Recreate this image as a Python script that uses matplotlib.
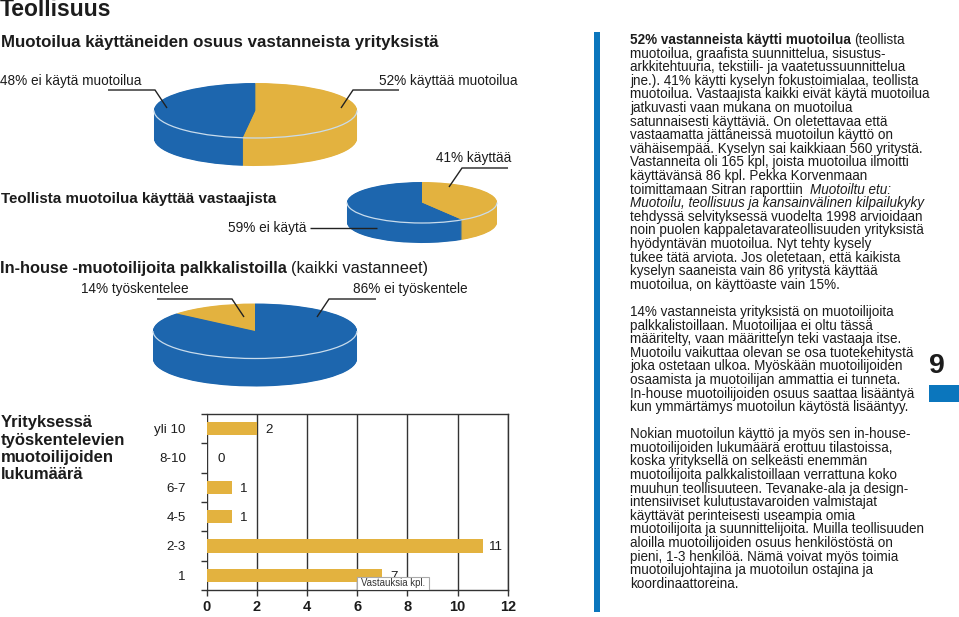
import matplotlib
matplotlib.use("Agg")
import matplotlib.pyplot as plt
from matplotlib.patches import Arc, Rectangle

plt.rcParams['font.family'] = ['Liberation Sans', 'DejaVu Sans']

W, H = 959, 617
BLUE = '#1D66AE'
YELLOW = '#E3B23F'
INK = '#1c1c1c'

pie1_values = [48, 52]
pie2_values = [59, 41]
pie3_values = [14, 86]
pie1_colors = [BLUE, YELLOW]
pie2_colors = [BLUE, YELLOW]
pie3_colors = [YELLOW, BLUE]

bar_categories = ['1', '2-3', '4-5', '6-7', '8-10', 'yli 10']
bar_values = [7, 11, 1, 1, 0, 2]
bar_xticks = [0, 2, 4, 6, 8, 10, 12]

para1 = [
    "muotoilua, graafista suunnittelua, sisustus-",
    "arkkitehtuuria, tekstiili- ja vaatetussuunnittelua",
    "jne.). 41% käytti kyselyn fokustoimialaa, teollista",
    "muotoilua. Vastaajista kaikki eivät käytä muotoilua",
    "jatkuvasti vaan mukana on muotoilua",
    "satunnaisesti käyttäviä. On oletettavaa että",
    "vastaamatta jättäneissä muotoilun käyttö on",
    "vähäisempää. Kyselyn sai kaikkiaan 560 yritystä.",
    "Vastanneita oli 165 kpl, joista muotoilua ilmoitti",
    "käyttävänsä 86 kpl. Pekka Korvenmaan",
]
para1b = [
    "tehdyssä selvityksessä vuodelta 1998 arvioidaan",
    "noin puolen kappaletavarateollisuuden yrityksistä",
    "hyödyntävän muotoilua. Nyt tehty kysely",
    "tukee tätä arviota. Jos oletetaan, että kaikista",
    "kyselyn saaneista vain 86 yritystä käyttää",
    "muotoilua, on käyttöaste vain 15%.",
]
para2 = [
    "14% vastanneista yrityksistä on muotoilijoita",
    "palkkalistoillaan. Muotoilijaa ei oltu tässä",
    "määritelty, vaan määrittelyn teki vastaaja itse.",
    "Muotoilu vaikuttaa olevan se osa tuotekehitystä",
    "joka ostetaan ulkoa. Myöskään muotoilijoiden",
    "osaamista ja muotoilijan ammattia ei tunneta.",
    "In-house muotoilijoiden osuus saattaa lisääntyä",
    "kun ymmärtämys muotoilun käytöstä lisääntyy.",
]
para3 = [
    "Nokian muotoilun käyttö ja myös sen in-house-",
    "muotoilijoiden lukumäärä erottuu tilastoissa,",
    "koska yrityksellä on selkeästi enemmän",
    "muotoilijoita palkkalistoillaan verrattuna koko",
    "muuhun teollisuuteen. Tevanake-ala ja design-",
    "intensiiviset kulutustavaroiden valmistajat",
    "käyttävät perinteisesti useampia omia",
    "muotoilijoita ja suunnittelijoita. Muilla teollisuuden",
    "aloilla muotoilijoiden osuus henkilöstöstä on",
    "pieni, 1-3 henkilöä. Nämä voivat myös toimia",
    "muotoilujohtajina ja muotoilun ostajina ja",
    "koordinaattoreina.",
]

fig = plt.figure(figsize=(W / 100, H / 100), dpi=100, facecolor='white')


def px_axes(x0, y0, x1, y1, **kw):
    return fig.add_axes([x0 / W, 1 - y1 / H, (x1 - x0) / W, (y1 - y0) / H], **kw)


def pie3d(values, colors, cx, cy, a, b, depth):
    ax = px_axes(cx - a, cy - b, cx + a, cy + b)
    step = 0.5
    n = int(depth / step)
    for i in range(n, -1, -1):
        off = i * step / b
        ax.pie(values, colors=colors, startangle=90, counterclock=True, radius=1,
               center=(0, -off), wedgeprops=dict(linewidth=0, clip_on=False),
               frame=False)
    ax.add_patch(Arc((0, 0), 2, 2, theta1=180, theta2=360, color='#C9DCEC', lw=0.9,
                     clip_on=False, zorder=20))
    ax.set_aspect('auto')
    ax.set_xlim(-1, 1)
    ax.set_ylim(-1, 1)
    ax.axis('off')
    return ax


pie3d(pie1_values, pie1_colors, 255.5, 110.5, 101.5, 27.5, 28)
pie3d(pie2_values, pie2_colors, 422, 202.5, 75, 20.5, 20)
pie3d(pie3_values, pie3_colors, 255, 331, 102, 27.5, 28)

# bar chart
bx = px_axes(206.7, 414, 507.7, 590)
bx.set_axisbelow(True)
pos = range(len(bar_categories))
bx.barh(list(pos), bar_values, height=0.46, color=YELLOW, zorder=3)
bx.set_xlim(0, 12)
bx.set_ylim(-0.5, 5.5)
bx.set_xticks(bar_xticks)
bx.set_xticklabels([str(v) for v in bar_xticks], fontsize=10.5, fontweight='bold', color=INK)
bx.set_yticks(list(pos))
bx.set_yticklabels(bar_categories, fontsize=9.6, color=INK)
bx.set_yticks([i + 0.5 for i in range(-1, 6)], minor=True)
bx.tick_params(axis='y', which='major', length=0, pad=15)
bx.tick_params(axis='y', which='minor', length=4, width=1, color='#333333')
bx.tick_params(axis='x', length=4, width=1, color='#333333', pad=3, direction='out')
bx.grid(axis='x', color='#333333', lw=1, zorder=1)
for s in bx.spines.values():
    s.set_color('#333333')
    s.set_linewidth(1)
bx.spines['left'].set_visible(False)
for y, v in zip(pos, bar_values):
    extra = 2 if v == 0 else (1 if v > 9 else 0)
    bx.annotate(str(v), (v, y), xytext=(8.6 + extra, -1), textcoords='offset points',
                ha='center', va='center', fontsize=9.6, color=INK, zorder=5)
bx.add_patch(Rectangle((0.5, 0.0), 72 / 301, 13 / 176, transform=bx.transAxes, fc='white',
                       ec='#AAAAAA', lw=0.8, zorder=6))
bx.text(0.5 + 36 / 301, 6.5 / 176, 'Vastauksia kpl.', transform=bx.transAxes, ha='center',
        va='center', fontsize=6.9, color='#333333', zorder=7)

# overlay in pixel coordinates
ov = px_axes(0, 0, W, H, zorder=10)
ov.set_xlim(0, W)
ov.set_ylim(H, 0)
ov.axis('off')
ov.patch.set_alpha(0)


def T(x, y, s, size=9.8, weight='normal', style='normal', ha='left', color=INK):
    return ov.text(x, y, s, fontsize=size, fontweight=weight, fontstyle=style, ha=ha,
                   va='center', color=color)


def L(xs, ys, lw=1.0):
    ov.plot(xs, ys, color='#222222', lw=lw, solid_capstyle='butt', solid_joinstyle='miter')


T(0, 9, 'Teollisuus', size=16.5, weight='bold')
T(1, 42, 'Muotoilua käyttäneiden osuus vastanneista yrityksistä', size=12.2, weight='bold')
T(0, 81, '48% ei käytä muotoilua')
T(379, 81, '52% käyttää muotoilua', size=9.8)
T(436, 158, '41% käyttää')
T(1, 199, 'Teollista muotoilua käyttää vastaajista', size=10.9, weight='bold')
T(228, 228, '59% ei käytä')
t = T(0, 268, 'In-house -muotoilijoita palkkalistoilla', size=11.8, weight='bold')
fig.canvas.draw()
r = fig.canvas.get_renderer()
x_end = t.get_window_extent(r).x1
T(x_end + 4, 268, '(kaikki vastanneet)', size=11.8)
T(81, 289, '14% työskentelee')
T(353, 289, '86% ei työskentele')

L([108, 155, 167], [90, 90, 108])
L([399, 353, 341], [90, 90, 108])
L([508, 462, 449], [168, 168, 187])
L([310, 377], [228, 228])
L([157, 232, 244], [299, 299, 317])
L([376, 329, 317], [299, 299, 317])

for i, s in enumerate(['Yrityksessä', 'työskentelevien', 'muotoilijoiden', 'lukumäärä']):
    T(1, 423 + i * 17.3, s, size=12, weight='bold')

X = 630
LH = 13.6
t = T(X, 40, '52% vastanneista käytti muotoilua', size=9.75, weight='bold')
fig.canvas.draw()
x_end = t.get_window_extent(fig.canvas.get_renderer()).x1
T(x_end + 3.5, 40, '(teollista', size=9.75)
row = 1
for s in para1:
    T(X, 40 + row * LH, s, size=9.75)
    row += 1
t = T(X, 40 + row * LH, 'toimittamaan Sitran raporttiin ', size=9.75)
fig.canvas.draw()
x_end = t.get_window_extent(fig.canvas.get_renderer()).x1
T(x_end + 3, 40 + row * LH, 'Muotoiltu etu:', size=9.75, style='italic')
row += 1
T(X, 40 + row * LH, 'Muotoilu, teollisuus ja kansainvälinen kilpailukyky', size=9.75, style='italic')
row += 1
for s in para1b:
    T(X, 40 + row * LH, s, size=9.75)
    row += 1
for i, s in enumerate(para2):
    T(X, 312 + i * 13.6, s, size=9.75)
for i, s in enumerate(para3):
    T(X, 434 + i * 13.64, s, size=9.75)

ov.add_patch(Rectangle((594, 32), 6, 580, fc='#0B76BD', ec='none'))
ov.add_patch(Rectangle((929, 385), 30, 17, fc='#0B76BD', ec='none'))
T(937, 366, '9', size=20.5, weight='bold', ha='center')

fig.savefig('out.png', dpi=100)
